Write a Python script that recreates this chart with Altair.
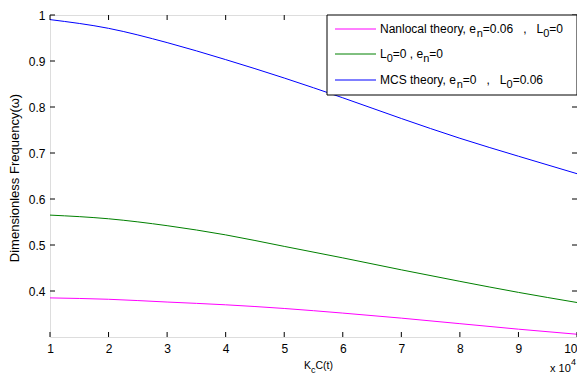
import altair as alt
import pandas as pd

# data
x_vals = [1, 2, 3, 4, 5, 6, 7, 8, 9, 10]
nonlocal_vals = [0.385, 0.382, 0.376, 0.370, 0.362, 0.352, 0.341, 0.329, 0.317, 0.306]
classic_vals = [0.565, 0.557, 0.542, 0.522, 0.497, 0.472, 0.446, 0.421, 0.397, 0.375]
mcs_vals = [0.990, 0.971, 0.940, 0.903, 0.863, 0.820, 0.775, 0.732, 0.693, 0.655]

series_names = ["Nanlocal theory", "Classical", "MCS theory"]
series_colors = ["#ff00ff", "#008000", "#0000ff"]
# legend labels: (text, subscript?) segments
legend_segments = [
    [("Nanlocal theory, e", False), ("n", True), ("=0.06   ,   L", False), ("0", True), ("=0", False)],
    [("L", False), ("0", True), ("=0 , e", False), ("n", True), ("=0", False)],
    [("MCS theory, e", False), ("n", True), ("=0   ,   L", False), ("0", True), ("=0.06", False)],
]
x_ticks = [1, 2, 3, 4, 5, 6, 7, 8, 9, 10]
y_ticks = [0.4, 0.5, 0.6, 0.7, 0.8, 0.9, 1.0]

rows = []
for name, vals in zip(series_names, [nonlocal_vals, classic_vals, mcs_vals]):
    for xv, yv in zip(x_vals, vals):
        rows.append({"x": xv, "y": yv, "series": name})
df = pd.DataFrame(rows)

W, H = 527, 322
FONT = "Liberation Sans"

# Arial / Liberation Sans advance widths (per 1000 em)
AW = {" ": 278, ",": 278, "=": 584, ".": 278, "(": 333, ")": 333,
      "0": 556, "1": 556, "4": 556, "6": 556,
      "N": 722, "L": 556, "M": 833, "C": 722, "S": 667, "K": 667,
      "a": 556, "n": 556, "l": 222, "o": 556, "c": 500, "t": 278, "h": 556,
      "e": 556, "r": 333, "y": 500, "x": 500}

def text_width(s, size):
    return sum(AW.get(ch, 556) for ch in s) * size / 1000.0

xs = alt.Scale(domain=[1, 10], nice=False, zero=False)
ys = alt.Scale(domain=[0.3, 1.0], nice=False, zero=False)

lines = alt.Chart(df).mark_line(strokeWidth=1, interpolate="monotone", clip=True).encode(
    x=alt.X("x:Q", scale=xs,
            axis=alt.Axis(values=x_ticks, title=None, ticks=False, domain=False, grid=False,
                          format="~g", labelFontSize=12, labelFont=FONT, labelColor="#000",
                          labelPadding=6, labelFlush=False, labelOverlap=False,
                          labelAlign=alt.ExprRef(expr="datum.value == 10 ? 'right' : 'center'"))),
    y=alt.Y("y:Q", scale=ys,
            axis=alt.Axis(values=y_ticks, title=None, ticks=False, domain=False, grid=False,
                          format="~g", labelFontSize=12, labelFont=FONT, labelColor="#000",
                          labelPadding=5, labelOverlap=False)),
    color=alt.Color("series:N", scale=alt.Scale(domain=series_names, range=series_colors), legend=None),
)

xt = pd.DataFrame({"t": x_ticks})
yt = pd.DataFrame({"t": y_ticks})
tick_style = dict(color="#000", strokeWidth=1)
xb = alt.Chart(xt).mark_rule(**tick_style).encode(x=alt.X("t:Q", scale=xs), y=alt.value(H), y2=alt.value(H - 5))
xtop = alt.Chart(xt).mark_rule(**tick_style).encode(x=alt.X("t:Q", scale=xs), y=alt.value(0), y2=alt.value(5))
yl = alt.Chart(yt).mark_rule(**tick_style).encode(y=alt.Y("t:Q", scale=ys), x=alt.value(0), x2=alt.value(5))
yr = alt.Chart(yt).mark_rule(**tick_style).encode(y=alt.Y("t:Q", scale=ys), x=alt.value(W), x2=alt.value(W - 5))

one = alt.Data(values=[{}])

def txt(s, x, y, size=11, **kw):
    return alt.Chart(one).mark_text(text=s.replace(" ", "\u00a0"), font=FONT, fontSize=size, color="#000",
                                    align=kw.pop("align", "left"),
                                    baseline=kw.pop("baseline", "alphabetic"), **kw).encode(
        x=alt.value(x), y=alt.value(y))

def seg_text(segments, x0, base, size, sub_size, sub_shift):
    out = []
    x = x0
    for s, sub in segments:
        fs = sub_size if sub else size
        out.append(txt(s, x, base + (sub_shift if sub else 0), fs))
        x += text_width(s, fs)
    return out

# legend box
legend_box = alt.Chart(one).mark_rect(fill="white", stroke="#000", strokeWidth=1).encode(
    x=alt.value(277), x2=alt.value(W), y=alt.value(0), y2=alt.value(80))

leg_y = [14, 39, 65]
leg_marks = []
for i, segs in enumerate(legend_segments):
    leg_marks.append(alt.Chart(one).mark_rule(color=series_colors[i], strokeWidth=1).encode(
        x=alt.value(285), x2=alt.value(326), y=alt.value(leg_y[i])))
    leg_marks.extend(seg_text(segs, 330, leg_y[i] + 4, 12, 11, 4))

annotations = []
annotations += seg_text([("K", False), ("c", True), ("C(t)", False)], 254, 354, 10.5, 9, 3.5)
annotations += [
    txt("x 10", 500, 357, 11),
    txt("4", 521, 350, 9),
    txt("Dimensionless Frequency(\u03c9)", -35, 163, 13, align="center", baseline="middle", angle=270),
]

chart = alt.layer(
    lines, xb, xtop, yl, yr, legend_box, *leg_marks, *annotations
).properties(
    width=W, height=H,
    autosize=alt.AutoSizeParams(type="none"),
    padding={"left": 42, "top": 7, "right": 0, "bottom": 36},
).configure_view(stroke="#000", strokeWidth=1).configure(background="white")

chart.save("out.html", embed_options={"renderer": "svg", "actions": False})
